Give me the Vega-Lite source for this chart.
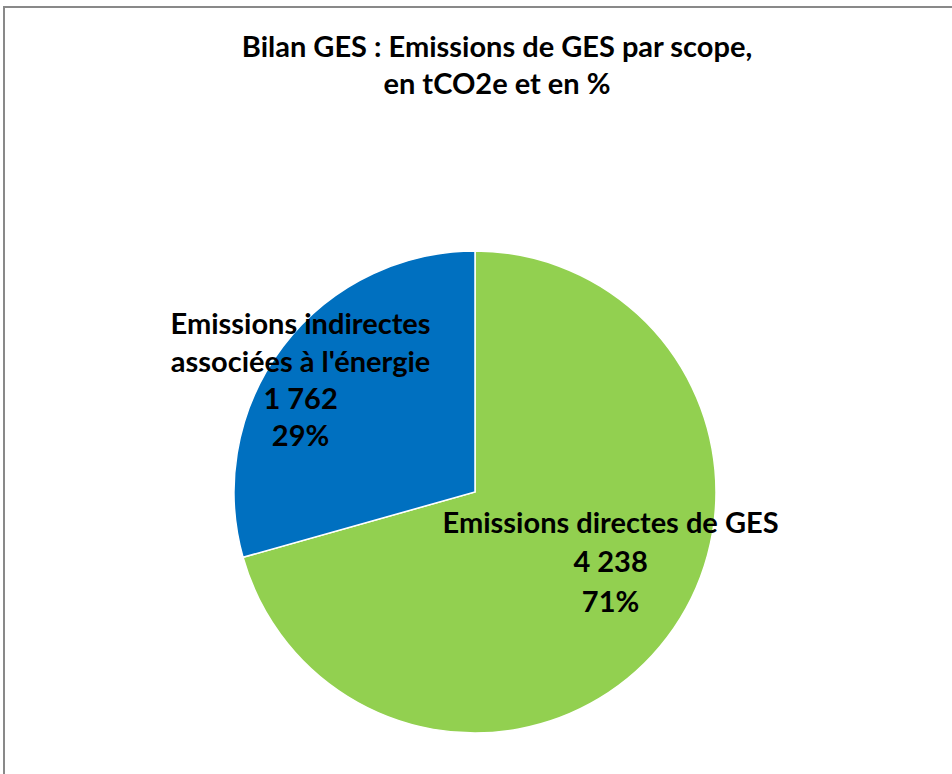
{
  "$schema": "https://vega.github.io/schema/vega-lite/v6.json",
  "width": 948,
  "height": 767,
  "autosize": {"type": "none"},
  "padding": {"left": 4, "top": 7, "right": 0, "bottom": 0},
  "background": "white",
  "view": {"stroke": "#898989", "strokeWidth": 2, "strokeDash": [948, 1715, 767], "fill": "white"},
  "title": {
    "text": ["Bilan GES : Emissions de GES par scope,", "en tCO2e et en %"],
    "font": "Lato",
    "fontSize": 29,
    "fontWeight": "bold",
    "color": "black",
    "anchor": "middle",
    "dx": 19,
    "dy": 97,
    "lineHeight": 37
  },
  "data": {
    "values": [
      {"scope": "Emissions directes de GES", "value": 4238, "order": 1, "label": "Emissions directes de GES\n4 238\n71%"},
      {"scope": "Emissions indirectes associées à l'énergie", "value": 1762, "order": 2, "label": "Emissions indirectes\nassociées à l'énergie\n1 762\n29%"}
    ]
  },
  "encoding": {
    "theta": {"field": "value", "type": "quantitative", "stack": true},
    "order": {"field": "order", "type": "quantitative"}
  },
  "layer": [
    {
      "mark": {"type": "arc", "outerRadius": 241, "x": 471, "y": 485, "stroke": "white", "strokeWidth": 1.5},
      "encoding": {
        "color": {
          "field": "scope",
          "type": "nominal",
          "scale": {"domain": ["Emissions directes de GES", "Emissions indirectes associées à l'énergie"], "range": ["#92D050", "#0070C0"]},
          "legend": null
        }
      }
    },
    {
      "mark": {"type": "text", "x": 471, "y": 485, "radius": 150, "dx": 16, "dy": -59, "font": "Lato", "fontSize": 29, "fontWeight": "bold", "color": "black", "lineBreak": "\n", "lineHeight": 39.5, "align": "center", "baseline": "middle"},
      "encoding": {
        "text": {"condition": {"test": "datum.order == 1", "field": "label"}, "value": ""}
      }
    },
    {
      "mark": {"type": "text", "x": 471, "y": 485, "radius": 200, "dx": -15, "dy": -46, "font": "Lato", "fontSize": 29, "fontWeight": "bold", "color": "black", "lineBreak": "\n", "lineHeight": 37.3, "align": "center", "baseline": "middle"},
      "encoding": {
        "text": {"condition": {"test": "datum.order == 2", "field": "label"}, "value": ""}
      }
    }
  ]
}
